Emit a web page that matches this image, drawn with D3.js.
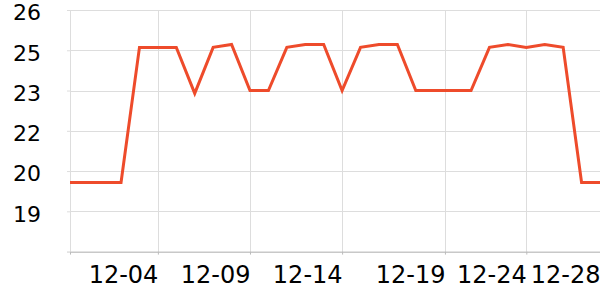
<!DOCTYPE html>
<html>
<head>
<meta charset="utf-8">
<script src="https://cdn.jsdelivr.net/npm/d3@7"></script>
<style>
body { margin: 0; background: #fff; }
text { font-family: "DejaVu Sans", sans-serif; fill: #000; }
</style>
</head>
<body>
<svg width="600" height="300"></svg>
<script>
var days = ["2023-11-29","2023-11-30","2023-12-01","2023-12-02","2023-12-03","2023-12-04",
	"2023-12-05","2023-12-06","2023-12-07","2023-12-08","2023-12-09","2023-12-10","2023-12-11",
	"2023-12-12","2023-12-13","2023-12-14","2023-12-15","2023-12-16","2023-12-17","2023-12-18",
	"2023-12-19","2023-12-20","2023-12-21","2023-12-22","2023-12-23","2023-12-24","2023-12-25",
	"2023-12-26","2023-12-27","2023-12-28"];
var temps = [20,20,20,20,24.7,24.7,24.7,23.1,24.7,24.8,23.2,23.2,24.7,24.8,24.8,23.2,
	24.7,24.8,24.8,23.2,23.2,23.2,23.2,24.7,24.8,24.7,24.8,24.7,20,20];

var xDomain = ["2023-11-29T05:30","2023-12-28T00:00"];
var xTicks = ["2023-12-04T00:00","2023-12-09T00:00","2023-12-14T00:00","2023-12-19T14:00","2023-12-24T00:00","2023-12-28T00:00"];
var yDomain = [17.6, 26];
var yTicks = [17.6, 19.0, 20.4, 21.8, 23.2, 24.6, 26];

function draw() {
	var plotL = 70, plotR = 600, plotT = 10, plotB = 251.6;
	var parseDay = d3.timeParse("%Y-%m-%d");
	var parseTime = d3.timeParse("%Y-%m-%dT%H:%M");

	var x = d3.scaleTime().domain(xDomain.map(parseTime)).range([plotL, plotR]);
	var y = d3.scaleLinear().domain(yDomain).range([plotB, plotT]);

	var svg = d3.select("svg");

	// grid
	svg.append("g").selectAll("line").data(yTicks).enter().append("line")
		.attr("x1", plotL).attr("x2", plotR)
		.attr("y1", function(d) { return Math.round(y(d)) + 0.5; })
		.attr("y2", function(d) { return Math.round(y(d)) + 0.5; })
		.attr("stroke", "#ddd").attr("stroke-width", 1);
	svg.append("g").selectAll("line").data(xTicks.map(parseTime)).enter().append("line")
		.attr("x1", function(d) { return Math.round(x(d)) + 0.5; })
		.attr("x2", function(d) { return Math.round(x(d)) + 0.5; })
		.attr("y1", plotT).attr("y2", plotB)
		.attr("stroke", "#ddd").attr("stroke-width", 1);

	// y axis
	var yAxis = svg.append("g").attr("transform", "translate(" + plotL + ",0)")
		.call(d3.axisLeft(y).tickValues(yTicks).tickSize(3).tickPadding(26)
			.tickFormat(function(d) { return d == yDomain[0] ? "" : d3.format(".0f")(d); }));
	yAxis.select(".domain").attr("stroke", "#ddd");
	yAxis.selectAll(".tick line").attr("stroke", "#ddd");
	yAxis.selectAll("text").attr("font-size", 22).attr("dy", "0.45em");

	// x axis
	var xAxis = svg.append("g").attr("transform", "translate(0," + plotB + ")")
		.call(d3.axisBottom(x).tickValues(xTicks.map(parseTime)).tickSize(3)
			.tickFormat(d3.timeFormat("%m-%d")));
	xAxis.select(".domain").attr("stroke", "#bbb");
	xAxis.selectAll(".tick line").attr("stroke", "#bbb");
	xAxis.selectAll("text").attr("font-size", 24).attr("text-anchor", "end")
		.attr("y", 31.7).attr("dy", 0);

	// line
	svg.append("clipPath").attr("id", "plot").append("rect")
		.attr("x", plotL).attr("y", 0).attr("width", plotR - plotL).attr("height", 300);
	var line = d3.line()
		.x(function(d, i) { return x(parseDay(days[i])); })
		.y(function(d) { return y(d); });
	svg.append("path").datum(temps)
		.attr("clip-path", "url(#plot)")
		.attr("d", line)
		.attr("fill", "none").attr("stroke", "#ee4b2b").attr("stroke-width", 3)
		.attr("stroke-linejoin", "miter");
}
draw();
</script>
</body>
</html>
